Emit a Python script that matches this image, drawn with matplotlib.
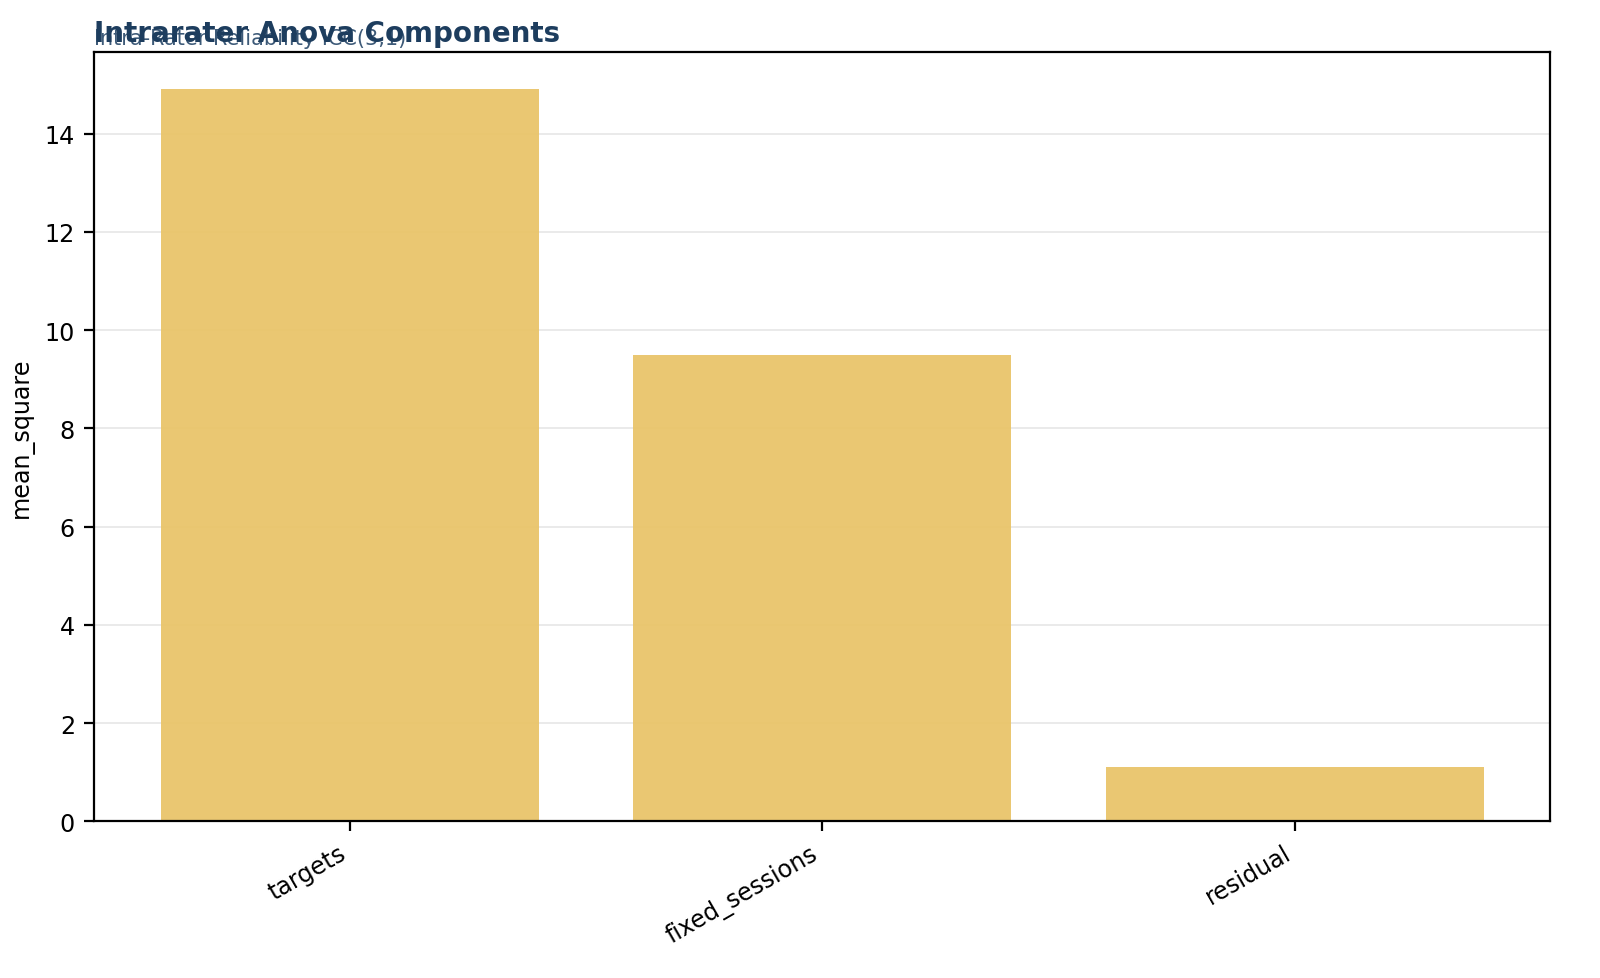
import numpy as np
import matplotlib.pyplot as plt

components = ["targets", "fixed_sessions", "residual"]
mean_square = [14.92, 9.49, 1.10]

fig, ax = plt.subplots(figsize=(8, 4.895), dpi=200)
fig.subplots_adjust(left=0.059, right=0.969, top=0.946, bottom=0.160)

x = np.arange(len(components))
ax.bar(x, mean_square, width=0.8, color='#e9c46a', alpha=0.95, zorder=2)
ax.set_xticks(x)
ax.set_xticklabels(components, rotation=30, ha='right', fontsize=8.6)
ax.tick_params(axis='y', labelsize=8.6)
ax.set_ylabel('mean_square', fontsize=8.6)
ax.grid(axis='y', color='#e6e6e6', linewidth=0.6, zorder=0)
ax.set_axisbelow(True)

ax.set_title('Intrarater Anova Components', loc='left', fontsize=10,
             fontweight='bold', color='#1d3d5e', pad=4)
ax.text(0, 1.005, 'Intra-Rater Reliability ICC(3,1)', transform=ax.transAxes,
        fontsize=7.5, color='#3d5a78', ha='left', va='bottom')

plt.savefig('out.png', dpi=200)
